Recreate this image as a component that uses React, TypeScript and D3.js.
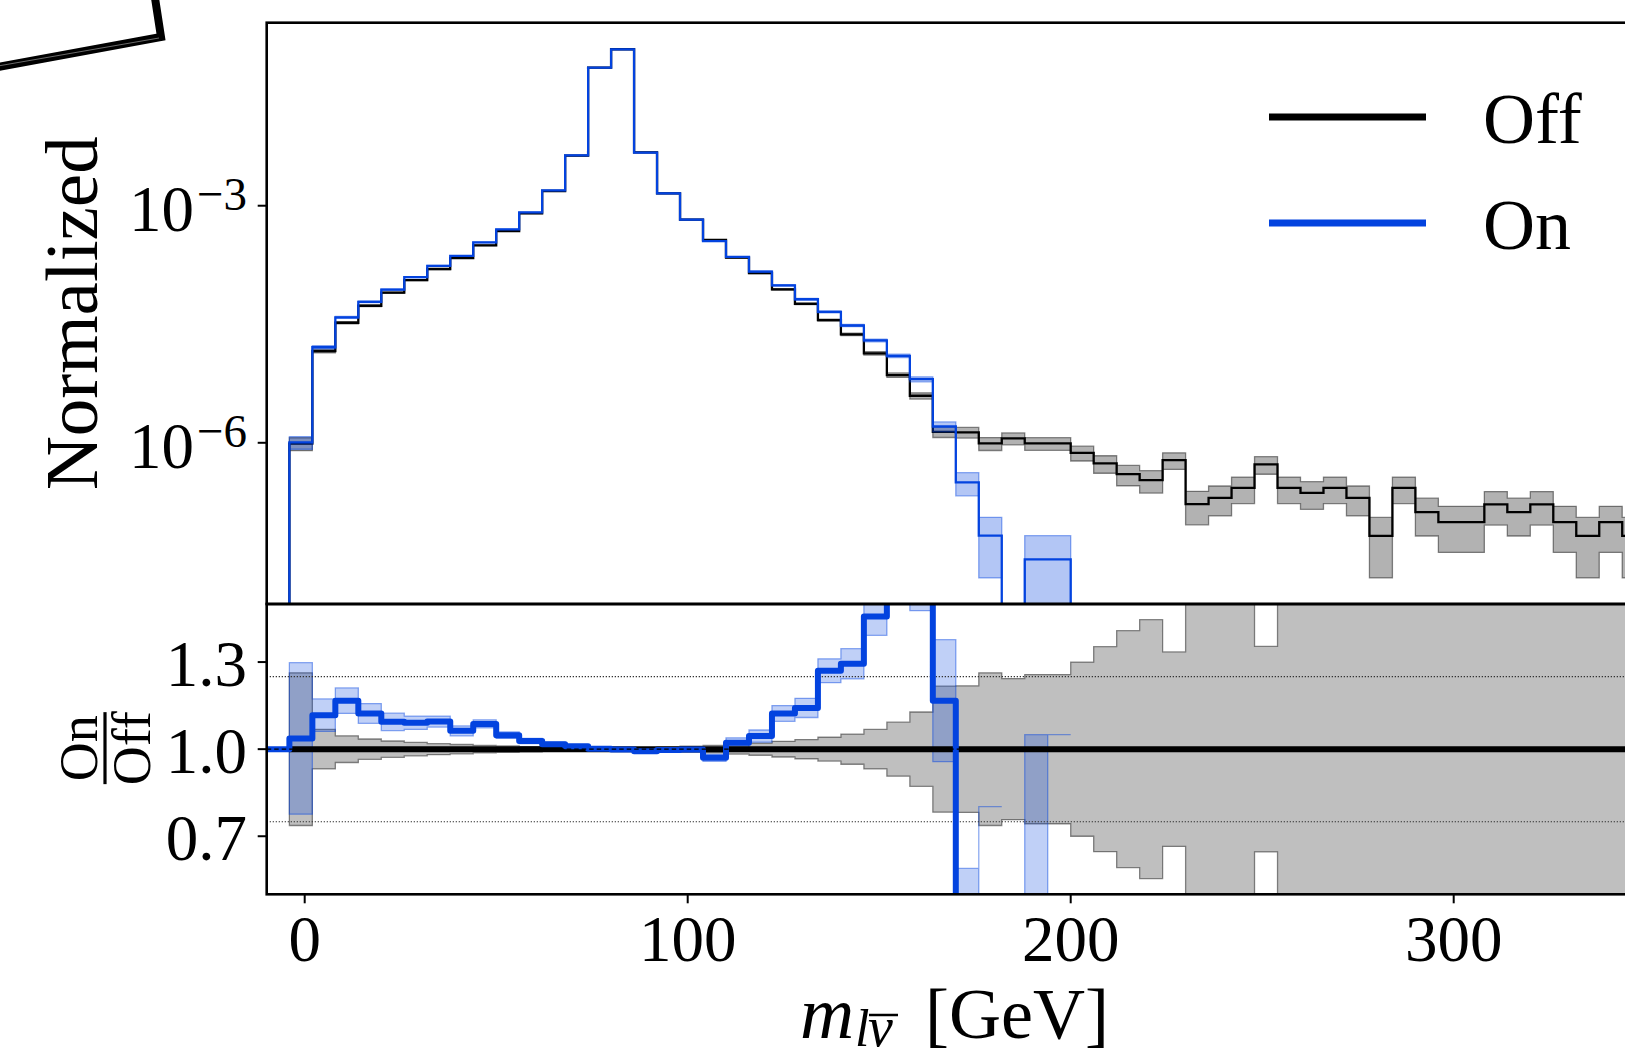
import React from 'react';
import * as d3 from 'd3';

// ---------------- data ----------------
// 60 bins of 6 GeV from -10 to 350 GeV
const binEdges: number[] = d3.range(-10, 351, 6);

// log10 of the "Off" normalized histogram (null = empty bin)
const offLog: (number | null)[] = [
  null, -6.01, -4.839, -4.481, -4.266, -4.101, -3.941, -3.801, -3.662, -3.501,
  -3.32, -3.096, -2.814, -2.367, -1.253, -1.02, -2.324, -2.843, -3.175, -3.434,
  -3.658, -3.852, -4.058, -4.241, -4.447, -4.628, -4.868, -5.143, -5.405, -5.861,
  -5.868, -6.008, -5.944, -6.008, -6.008, -6.127, -6.261, -6.396, -6.472, -6.219,
  -6.776, -6.696, -6.57, -6.273, -6.57, -6.633, -6.57, -6.696, -7.177, -6.57,
  -6.877, -7.004, -7.004, -6.78, -6.877, -6.78, -7.004, -7.177, -7.004, -7.177,
];

// half-width of the grey band in the ratio panel (Off uncertainty)
const offRatioErr: (number | null)[] = [
  null, 0.263, 0.068, 0.046, 0.035, 0.028, 0.023, 0.019, 0.016, 0.013,
  0.011, 0.009, 0.0065, 0.0043, 0.0012, 0.0009, 0.0045, 0.0072, 0.01, 0.013,
  0.017, 0.021, 0.027, 0.033, 0.041, 0.052, 0.068, 0.093, 0.128, 0.217,
  0.218, 0.263, 0.243, 0.257, 0.257, 0.3, 0.353, 0.408, 0.446, 0.335,
  0.64, 0.58, 0.52, 0.354, 0.52, 0.54, 0.52, 0.58, 1.0, 0.52,
  0.71, 0.83, 0.83, 0.64, 0.71, 0.64, 0.83, 1.0, 0.83, 1.0,
];

// On / Off ratio per bin
const onRatio: number[] = [
  1.0, 1.037, 1.117, 1.167, 1.123, 1.094, 1.091, 1.095, 1.063, 1.087,
  1.048, 1.028, 1.017, 1.01, 1.001, 0.999, 0.993, 0.997, 0.999, 0.97,
  1.022, 1.045, 1.123, 1.142, 1.27, 1.294, 1.457, 1.75, 1.62, 1.167,
  0.233, 0.068, 0, 0.034, 0.034, 0, 0, 0, 0, 0,
  0, 0, 0, 0, 0, 0, 0, 0, 0, 0,
  0, 0, 0, 0, 0, 0, 0, 0, 0, 0,
];

// relative uncertainty of "On" in the upper panel
const onErr: (number | null)[] = [
  null, 0.182, 0.045, 0.029, 0.023, 0.02, 0.016, 0.014, 0.012, 0.01,
  0.008, 0.0064, 0.0046, 0.0028, 0.0008, 0.0006, 0.0027, 0.0048, 0.0071, 0.0097,
  0.0122, 0.0151, 0.0184, 0.0225, 0.027, 0.033, 0.041, 0.051, 0.072, 0.144,
  0.325, 0.708, null, 1.0, 1.0,
];

// half-width of the blue band in the ratio panel (bins 0..29)
const onRatioErr: (number | null)[] = [
  null, 0.261, 0.056, 0.044, 0.034, 0.03, 0.023, 0.019, 0.017, 0.014,
  0.011, 0.009, 0.007, 0.005, 0.003, 0.002, 0.004, 0.006, 0.008, 0.012,
  0.017, 0.021, 0.027, 0.033, 0.041, 0.052, 0.065, 0.09, 0.143, 0.21,
];
// blue ratio band for bins 30..34
const onTailLo: (number | null)[] = [0, 0.802, null, 0, 1.05];
const onTailHi: (number | null)[] = [0.589, 0.802, null, 1.05, 1.05];

const xTicks = [0, 100, 200, 300];
const mainTickExp = [-3, -6];
const ratioTicks = [0.7, 1.0, 1.3];
const ratioGuides = [0.75, 1.25];
const legendItems = [
  { label: 'Off', color: '#000000' },
  { label: 'On', color: '#0343df' },
];

// ---------------- layout ----------------
const W = 1625;
const H = 1060;
const xL = 266.7;
const yTop = 22.7;
const yMid = 604;
const yBot = 894.3;
const BLUE = '#0343df';
const FONT = "'Liberation Serif', 'Times New Roman', 'DejaVu Serif', serif";
const TICK_FS = 65;

const x = d3.scaleLinear().domain([-10, 350]).range([266.4, 1645.2]);
const yMain = d3.scaleLog().domain([10 ** -8.04, 10 ** -0.684]).range([yMid, yTop]);
const yRat = d3.scaleLinear().domain([0.5, 1.5]).range([yBot, yMid]);

const nBins = binEdges.length - 1;
const off: number[] = offLog.map((v) => (v == null ? 0 : 10 ** v));
const on: number[] = off.map((v, i) => v * onRatio[i]);

const yMainSafe = (v: number) => (v > 0 ? yMain(v) : yMid + 60);

function stepPath(vals: number[], yf: (v: number) => number, start = 0, end = nBins): string {
  let d = '';
  for (let i = start; i < end; i++) {
    const yy = yf(vals[i]);
    d += i === start ? `M${x(binEdges[i])},${yy}` : `V${yy}`;
    d += `H${x(binEdges[i + 1])}`;
  }
  return d;
}

function bandPath(lo: (number | null)[], hi: (number | null)[], yf: (v: number) => number): string {
  const parts: string[] = [];
  let i = 0;
  const n = Math.min(lo.length, hi.length);
  while (i < n) {
    if (lo[i] == null || hi[i] == null) { i++; continue; }
    let j = i;
    while (j < n && lo[j] != null && hi[j] != null) j++;
    let d = `M${x(binEdges[i])},${yf(hi[i] as number)}`;
    for (let k = i; k < j; k++) {
      if (k > i) d += `V${yf(hi[k] as number)}`;
      d += `H${x(binEdges[k + 1])}`;
    }
    for (let k = j - 1; k >= i; k--) {
      d += `V${yf(lo[k] as number)}`;
      d += `H${x(binEdges[k])}`;
    }
    d += 'Z';
    parts.push(d);
    i = j;
  }
  return parts.join(' ');
}

// bands
const SQ2 = Math.SQRT2;
const offTopLo = offRatioErr.map((e, i) => (e == null ? null : off[i] * (1 - e / SQ2)));
const offTopHi = offRatioErr.map((e, i) => (e == null ? null : off[i] * (1 + e / SQ2)));
const onTopLo = onErr.map((e, i) => (e == null || on[i] <= 0 ? null : on[i] * (1 - e)));
const onTopHi = onErr.map((e, i) => (e == null || on[i] <= 0 ? null : on[i] * (1 + e)));
const grayRatLo = offRatioErr.map((e) => (e == null ? null : 1 - e));
const grayRatHi = offRatioErr.map((e) => (e == null ? null : 1 + e));
const blueRatLo = [
  ...onRatioErr.map((e, i) => (e == null ? null : onRatio[i] - e)),
  ...onTailLo,
];
const blueRatHi = [
  ...onRatioErr.map((e, i) => (e == null ? null : onRatio[i] + e)),
  ...onTailHi,
];

export default function App() {
  return (
    <svg
      width={W}
      height={H}
      viewBox={`0 0 ${W} ${H}`}
      style={{ position: 'absolute', left: 0, top: 0, background: '#fff' }}
      fontFamily={FONT}
    >
      <defs>
        <clipPath id="clipTop">
          <rect x={xL} y={yTop} width={W} height={yMid - yTop} />
        </clipPath>
        <clipPath id="clipRat">
          <rect x={xL} y={yMid} width={W} height={yBot - yMid} />
        </clipPath>
      </defs>
      <rect x={0} y={0} width={W} height={H} fill="#fff" />

      {/* hand-drawn frame corner at top-left */}
      <path d="M-2,67 L161,37 L155,-2" fill="none" stroke="#000" strokeWidth={8} strokeLinejoin="miter" />
      <path d="M-2,66 L159,38" fill="none" stroke="#fff" strokeWidth={0.7} opacity={0.6} />

      {/* ---------- upper panel ---------- */}
      <g clipPath="url(#clipTop)">
        <path d={bandPath(offTopLo, offTopHi, yMainSafe)} fill="rgba(0,0,0,0.3)" stroke="rgba(0,0,0,0.45)" strokeWidth={1.3} />
        <path d={stepPath(off, yMainSafe)} fill="none" stroke="#000" strokeWidth={2.3} />
        <path d={bandPath(onTopLo, onTopHi, yMainSafe)} fill="rgba(3,67,223,0.3)" stroke="rgba(3,67,223,0.45)" strokeWidth={1.3} />
        <path d={stepPath(on, yMainSafe)} fill="none" stroke={BLUE} strokeWidth={2.3} />
      </g>

      {/* ---------- ratio panel ---------- */}
      <g clipPath="url(#clipRat)">
        <path d={bandPath(grayRatLo, grayRatHi, yRat)} fill="rgba(0,0,0,0.25)" stroke="rgba(0,0,0,0.45)" strokeWidth={1.3} />
        <path d={bandPath(blueRatLo, blueRatHi, yRat)} fill="rgba(3,67,223,0.25)" stroke="rgba(3,67,223,0.45)" strokeWidth={1.3} />
        {ratioGuides.map((g) => (
          <line key={g} x1={xL} x2={W} y1={yRat(g)} y2={yRat(g)} stroke="#333" strokeWidth={1.2} strokeDasharray="1.3,1.7" />
        ))}
        <path d={stepPath(off.map(() => 1), yRat, 1)} fill="none" stroke="#000" strokeWidth={6} />
        <path d={stepPath(onRatio, yRat)} fill="none" stroke={BLUE} strokeWidth={6} strokeLinejoin="round" />
        <line x1={xL} x2={W} y1={yRat(1)} y2={yRat(1)} stroke="#000" strokeWidth={1.4} strokeDasharray="4.5,3" />
      </g>

      {/* frames */}
      <rect x={xL} y={yTop} width={x(350) - xL} height={yMid - yTop} fill="none" stroke="#000" strokeWidth={2.6} />
      <rect x={xL} y={yMid} width={x(350) - xL} height={yBot - yMid} fill="none" stroke="#000" strokeWidth={2.6} />

      {/* upper y ticks */}
      {mainTickExp.map((e) => {
        const yy = yMain(10 ** e);
        return (
          <g key={e}>
            <line x1={xL - 9} x2={xL} y1={yy} y2={yy} stroke="#000" strokeWidth={2} />
            <text x={247} y={yy + 25} textAnchor="end" fontSize={TICK_FS} fill="#000">
              10
              <tspan fontSize={47} dy={-21} dx={3}>{`\u2212${Math.abs(e)}`}</tspan>
            </text>
          </g>
        );
      })}

      {/* ratio y ticks */}
      {ratioTicks.map((t) => {
        const yy = yRat(t);
        return (
          <g key={t}>
            <line x1={xL - 9} x2={xL} y1={yy} y2={yy} stroke="#000" strokeWidth={2} />
            <text x={247} y={yy + 24} textAnchor="end" fontSize={TICK_FS} fill="#000">
              {t.toFixed(1)}
            </text>
          </g>
        );
      })}

      {/* x ticks */}
      {xTicks.map((t) => (
        <g key={t}>
          <line x1={x(t)} x2={x(t)} y1={yBot} y2={yBot + 9} stroke="#000" strokeWidth={2} />
          <text x={x(t)} y={961} textAnchor="middle" fontSize={TICK_FS} fill="#000">
            {t}
          </text>
        </g>
      ))}

      {/* y label upper */}
      <g transform={`translate(0,${(yTop + yMid) / 2}) rotate(-90)`}>
        <text x={0} y={97} textAnchor="middle" fontSize={75} fill="#000">Normalized</text>
      </g>

      {/* ratio label On/Off */}
      <g transform={`translate(0,${yRat(1) - 1}) rotate(-90)`}>
        <text x={0} y={97} textAnchor="middle" fontSize={54} fill="#000">On</text>
        <line x1={-36} x2={36} y1={105} y2={105} stroke="#000" strokeWidth={3.2} />
        <text x={0} y={150} textAnchor="middle" fontSize={54} fill="#000">Off</text>
      </g>

      {/* x label */}
      <text x={800} y={1038} fontSize={75} fontStyle="italic" fill="#000">m</text>
      <text x={855} y={1046} fontSize={52} fontStyle="italic" fill="#000">l</text>
      <text x={868} y={1046} fontSize={56} fontStyle="italic" fill="#000">ν</text>
      <line x1={869} x2={898} y1={1015} y2={1015} stroke="#000" strokeWidth={2.5} />
      <text x={925} y={1038} fontSize={72} fill="#000">[GeV]</text>

      {/* legend */}
      {legendItems.map((it, i) => {
        const yy = 117 + i * 106;
        return (
          <g key={it.label}>
            <line x1={1269} x2={1426} y1={yy} y2={yy} stroke={it.color} strokeWidth={7} />
            <text x={1483} y={yy + 26} fontSize={72} fill="#000">{it.label}</text>
          </g>
        );
      })}
    </svg>
  );
}
